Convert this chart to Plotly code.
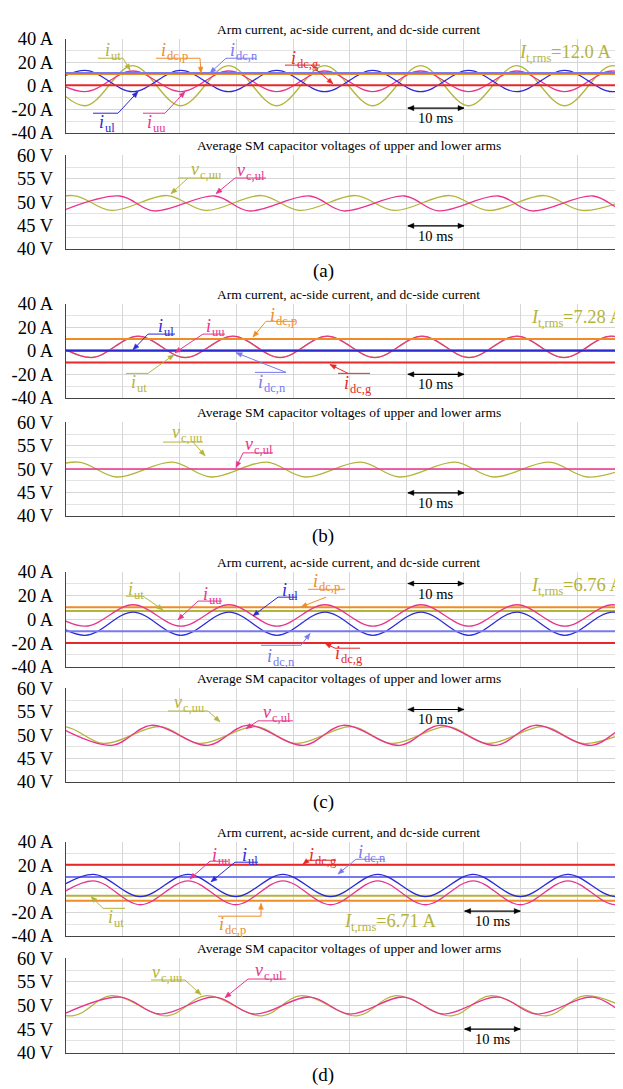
import math
import plotly.graph_objects as go

W, H = 623, 1089
FONT = "Liberation Serif, Times New Roman, serif"

C_UT = "#b4b43c"
C_DCP = "#f08c28"
C_DCN = "#7878f0"
C_UL = "#2a2ad4"
C_UU = "#e8348c"
C_DCG = "#e62828"
GRID = "#d6d6d6"

# ---------------- data (ms, A, V) ----------------
t_dc = [-2, 102]

# (a) currents: extrema times and values
ta_i = [-5.15, 3.3, 11.75, 20.2, 28.65, 37.1, 45.55, 54.0, 62.45, 70.9, 79.35, 87.8, 96.25, 104.7]
a_iut = [17, -17, 17, -17, 17, -17, 17, -17, 17, -17, 17, -17, 17, -17]
a_iuu = [12.5, -5, 12.5, -5, 12.5, -5, 12.5, -5, 12.5, -5, 12.5, -5, 12.5, -5]
a_iul = [-5, 13, -5, 13, -5, 13, -5, 13, -5, 13, -5, 13, -5, 13]
a_idcp = [10, 10]
a_idcn = [10.8, 10.8]
a_idcg = [0.5, 0.5]
# (a) voltages
ta_vuu = [-8.6, 1.2, 8.0, 17.8, 24.6, 34.4, 41.2, 51.0, 57.8, 67.6, 74.4, 84.2, 91.0, 100.8]
a_vuu = [48.2, 51.4, 48.2, 51.4, 48.2, 51.4, 48.2, 51.4, 48.2, 51.4, 48.2, 51.4, 48.2, 51.4]
ta_vul = [-0.7, 9.45, 15.5, 26.2, 32.2, 42.9, 48.9, 59.6, 65.6, 76.1, 82.1, 92.8, 98.8, 109.5]
a_vul = [48.1, 51.3, 48.1, 51.3, 48.1, 51.3, 48.1, 51.3, 48.1, 51.3, 48.1, 51.3, 48.1, 51.3]

# (b) currents
tb_i = [-4.0, 4.4, 12.7, 21.0, 29.4, 37.7, 46.0, 54.4, 62.7, 71.0, 79.4, 87.7, 96.0, 104.4]
b_iuu = [12.5, -5.8, 12.5, -5.8, 12.5, -5.8, 12.5, -5.8, 12.5, -5.8, 12.5, -5.8, 12.5, -5.8]
b_iut = [12.3, -5.6, 12.3, -5.6, 12.3, -5.6, 12.3, -5.6, 12.3, -5.6, 12.3, -5.6, 12.3, -5.6]
b_iul = [0, 0]
b_idcp = [10, 10]
b_idcn = [0.4, 0.4]
b_idcg = [-10, -10]
# (b) voltages
tb_vuu = [-7.7, 2.1, 8.9, 18.7, 25.5, 35.3, 42.1, 51.9, 58.7, 68.5, 75.3, 85.1, 91.9, 101.7]
b_vuu = [48.3, 51.5, 48.3, 51.5, 48.3, 51.5, 48.3, 51.5, 48.3, 51.5, 48.3, 51.5, 48.3, 51.5]
b_vul = [50, 50]

# (c) currents
tc_i = [-5.1, 3.35, 11.8, 20.25, 28.7, 37.15, 45.6, 54.05, 62.5, 70.95, 79.4, 87.85, 96.3, 104.75]
c_iuu = [12.2, -5.8, 12.2, -5.8, 12.2, -5.8, 12.2, -5.8, 12.2, -5.8, 12.2, -5.8, 12.2, -5.8]
c_iul = [6, -13.5, 6, -13.5, 6, -13.5, 6, -13.5, 6, -13.5, 6, -13.5, 6, -13.5]
c_iut = [7, 7]
c_idcp = [10, 10]
c_idcn = [-10, -10]
c_idcg = [-20, -20]
# (c) voltages
tc_vuu = [-10.2, -0.3, 6.6, 16.6, 23.4, 33.5, 40.3, 50.4, 57.2, 67.3, 74.1, 84.2, 91.0, 101.1]
c_vuu = [48.2, 51.8, 48.2, 51.8, 48.2, 51.8, 48.2, 51.8, 48.2, 51.8, 48.2, 51.8, 48.2, 51.8]
tc_vul = [-1.9, 8.1, 15.0, 25.0, 31.9, 41.9, 48.8, 58.8, 65.7, 75.7, 82.6, 92.6, 99.5, 109.5]
c_vul = [52.1, 47.8, 52.1, 47.8, 52.1, 47.8, 52.1, 47.8, 52.1, 47.8, 52.1, 47.8, 52.1, 47.8]

# (d) currents
td_i = [-3.6, 4.75, 13.1, 21.5, 29.9, 38.2, 46.6, 54.9, 63.3, 71.7, 80.0, 88.4, 96.8, 105.1]
d_iul = [-6.7, 12.2, -6.7, 12.2, -6.7, 12.2, -6.7, 12.2, -6.7, 12.2, -6.7, 12.2, -6.7, 12.2]
d_iuu = [-13.6, 6.7, -13.6, 6.7, -13.6, 6.7, -13.6, 6.7, -13.6, 6.7, -13.6, 6.7, -13.6, 6.7]
d_iut = [-6, -6]
d_idcp = [-10.3, -10.3]
d_idcn = [10, 10]
d_idcg = [20.3, 20.3]
# (d) voltages
td_vuu = [-8.7, 1.1, 8.0, 17.8, 24.7, 34.5, 41.4, 51.2, 58.1, 67.9, 74.8, 84.6, 91.5, 101.3]
d_vuu = [52.1, 47.8, 52.1, 47.8, 52.1, 47.8, 52.1, 47.8, 52.1, 47.8, 52.1, 47.8, 52.1, 47.8]
td_vul = [-0.4, 9.6, 16.4, 26.3, 33.1, 43.0, 49.9, 59.5, 66.3, 76.1, 82.8, 92.8, 99.5, 109.5]
d_vul = [48.2, 51.8, 48.2, 51.8, 48.2, 51.8, 48.2, 51.8, 48.2, 51.8, 48.2, 51.8, 48.2, 51.8]

i_ticks = [-40, -20, 0, 20, 40]
i_ticktext = ["-40 A", "-20 A", "0 A", "20 A", "40 A"]
v_ticks = [40, 45, 50, 55, 60]
v_ticktext = ["40 V", "45 V", "50 V", "55 V", "60 V"]
rms_text = ["12.0", "7.28", "6.76", "6.71"]

# ---------------- layout helpers ----------------
X0 = 58
T_MAX = 99.5
def px(x):
    return x / W
def py(y):
    return 1 - y / H

# plot frames (top, bottom) in pixels
frames = [(21, 117), (140, 235), (291, 387), (412, 507),
          (564, 661), (683, 778), (839, 935), (958, 1054)]
yranges = [(-40, 40), (40, 60)] * 4

fig = go.Figure()

def add(k, x, y, color, width=1.3, smooth=True):
    fig.add_trace(go.Scatter(
        x=x, y=y, mode="lines",
        line=dict(color=color, width=width, shape="spline" if smooth else "linear", smoothing=1),
        xaxis="x" if k == 1 else f"x{k}", yaxis="y" if k == 1 else f"y{k}",
        showlegend=False, hoverinfo="skip"))

# (a)
add(1, ta_i, a_iut, C_UT)
add(1, ta_i, a_iuu, C_UU)
add(1, ta_i, a_iul, C_UL)
add(1, t_dc, a_idcp, C_DCP, 2, False)
add(1, t_dc, a_idcn, C_DCN, 2, False)
add(1, t_dc, a_idcg, C_DCG, 2, False)
add(2, ta_vuu, a_vuu, C_UT)
add(2, ta_vul, a_vul, C_UU)
# (b)
add(3, tb_i, b_iut, C_UT)
add(3, tb_i, b_iuu, C_UU)
add(3, t_dc, b_idcp, C_DCP, 2, False)
add(3, t_dc, b_idcn, C_DCN, 2, False)
add(3, t_dc, b_iul, C_UL, 2, False)
add(3, t_dc, b_idcg, C_DCG, 2, False)
add(4, tb_vuu, b_vuu, C_UT)
add(4, t_dc, b_vul, C_UU, 1.5, False)
# (c)
add(5, t_dc, c_iut, C_UT, 2, False)
add(5, t_dc, c_idcp, C_DCP, 2, False)
add(5, tc_i, c_iuu, C_UU)
add(5, tc_i, c_iul, C_UL)
add(5, t_dc, c_idcn, C_DCN, 2, False)
add(5, t_dc, c_idcg, C_DCG, 2, False)
add(6, tc_vuu, c_vuu, C_UT)
add(6, tc_vul, c_vul, C_UU)
# (d)
add(7, t_dc, d_idcg, C_DCG, 2, False)
add(7, t_dc, d_idcn, C_DCN, 2, False)
add(7, t_dc, d_iut, C_UT, 2, False)
add(7, t_dc, d_idcp, C_DCP, 2, False)
add(7, td_i, d_iul, C_UL)
add(7, td_i, d_iuu, C_UU)
add(8, td_vuu, d_vuu, C_UT)
add(8, td_vul, d_vul, C_UU)

layout = dict(
    width=W, height=H, margin=dict(l=0, r=0, t=0, b=0),
    paper_bgcolor="white", plot_bgcolor="white",
    font=dict(family=FONT, color="black", size=17),
    showlegend=False,
)
for k in range(1, 9):
    top, bot = frames[k - 1]
    cur = (k % 2 == 1)
    xa = "xaxis" if k == 1 else f"xaxis{k}"
    ya = "yaxis" if k == 1 else f"yaxis{k}"
    yid = "y" if k == 1 else f"y{k}"
    xid = "x" if k == 1 else f"x{k}"
    layout[xa] = dict(domain=[px(X0), 1], anchor=yid, range=[0, T_MAX],
                      tick0=0, dtick=10, showticklabels=False, ticks="",
                      showgrid=True, gridcolor=GRID, gridwidth=1,
                      zeroline=False, showline=True, linecolor="#444", linewidth=1)
    layout[ya] = dict(domain=[py(bot), py(top)], anchor=xid,
                      range=list(yranges[k - 1]),
                      tickvals=i_ticks if cur else v_ticks,
                      ticktext=i_ticktext if cur else v_ticktext,
                      ticks="outside", ticklen=8, tickcolor="rgba(0,0,0,0)",
                      tickfont=dict(family=FONT, size=18.5, color="black"),
                      showgrid=True, gridcolor=GRID, gridwidth=1,
                      minor=dict(dtick=10 if cur else 2.5, tick0=0, showgrid=True, gridcolor="#e3e3e3", ticks=""),
                      zeroline=False, showline=True, linecolor="#444", linewidth=1.2)
fig.update_layout(**layout)

ann = []
shapes = []

# Times / Liberation Serif advance widths (per 1000 em)
ROMAN_W = {"u": 500, "t": 278, "l": 278, "d": 500, "c": 444, ",": 250, "p": 500, "n": 500,
           "g": 500, "r": 333, "m": 778, "s": 389, "=": 564, ".": 250, " ": 250, "A": 722}
ITAL_W = {"i": 278, "v": 444, "I": 333}

def tw(s, size, table=ROMAN_W):
    return sum(table.get(ch, 500) for ch in s) / 1000.0 * size

def text(x, y, s, color="black", size=13.5, anchor="center", style="normal"):
    ann.append(dict(xref="paper", yref="paper", x=px(x), y=py(y), text=s, showarrow=False,
                    xanchor=anchor, yanchor="middle", borderpad=0,
                    font=dict(family=FONT, size=size, color=color, style=style)))

def symbol(cx, y, main, sub, color, size=18, subsize=12.5, rest="", align="center"):
    wm = tw(main, size, ITAL_W)
    ws = tw(sub, subsize)
    wr = tw(rest, size)
    total = wm + 1 + ws + wr
    left = cx - total / 2 if align == "center" else cx - total
    text(left, y, main, color, size, "left", "italic")
    text(left + wm + 1, y + 0.33 * size, sub, color, subsize, "left")
    if rest:
        text(left + wm + 1 + ws, y, rest, color, size, "left")

def seg(x0, y0, x1, y1, color, width=1):
    shapes.append(dict(type="line", xref="paper", yref="paper", x0=px(x0), x1=px(x1),
                       y0=py(y0), y1=py(y1), line=dict(color=color, width=width)))

def head(x0, y0, x1, y1, color, L=6.0, w=2.4):
    # filled triangle at (x1, y1) pointing away from (x0, y0), pixel units
    dx, dy = x1 - x0, y1 - y0
    n = math.hypot(dx, dy) or 1.0
    ux, uy = dx / n, dy / n
    bx, by = x1 - L * ux, y1 - L * uy
    pts = [(x1, y1), (bx - w * uy, by + w * ux), (bx + w * uy, by - w * ux)]
    path = "M " + " L ".join(f"{px(a):.5f},{py(b):.5f}" for a, b in pts) + " Z"
    shapes.append(dict(type="path", xref="paper", yref="paper", path=path,
                       fillcolor=color, line=dict(color=color, width=0.5)))

def leader(x0, y0, x1, y1, color):
    seg(x0, y0, x1, y1, color)
    head(x0, y0, x1, y1, color)

def lab(x, y, main, sub, color, ul, ld):
    symbol(x, y, main, sub, color)
    seg(ul[0], ul[2], ul[1], ul[2], color)
    leader(ld[0], ld[1], ld[2], ld[3], color)

def rms(xr, y, val):
    symbol(xr, y, "I", "t,rms", C_UT, 18.5, 12.5, f"={val} A", align="right")

def to_px(k, t, v):
    top, bot = frames[k - 1]
    lo, hi = yranges[k - 1]
    return X0 + t / T_MAX * (W - X0), top + (hi - v) / (hi - lo) * (bot - top)

def scalebar(k, t0, t1, yv, ytxt):
    xa, ya = to_px(k, t0, yv)
    xb, yb = to_px(k, t1, yv)
    seg(xa, ya, xb, yb, "black", 1.1)
    head(xa, ya, xb, yb, "black", 6, 2.6)
    head(xb, yb, xa, ya, "black", 6, 2.6)
    xid = "x" if k == 1 else f"x{k}"
    yid = "y" if k == 1 else f"y{k}"
    ann.append(dict(xref=xid, yref=yid, x=(t0 + t1) / 2, y=ytxt, text="10 ms", showarrow=False,
                    font=dict(family=FONT, size=14.5, color="black")))

TI = "Arm current, ac-side current, and dc-side current"
TV = "Average SM capacitor voltages of upper and lower arms"
cx = (X0 + W) / 2
for k_i, k_v, lbl, ly in [(1, 2, "(a)", 258), (3, 4, "(b)", 528), (5, 6, "(c)", 799), (7, 8, "(d)", 1077)]:
    text(cx, frames[k_i - 1][0] - 9, TI)
    text(cx, frames[k_v - 1][0] - 10, TV)
    text(315, ly, lbl, size=19)

# (a) labels
lab(104, 33, "i", "ut", C_UT, (90, 115, 41), (115, 41, 122, 53))
lab(166, 33, "i", "dc,p", C_DCP, (148, 192, 41), (192, 41, 193, 56))
lab(235, 33, "i", "dc,n", C_DCN, (218, 248, 41), (218, 41, 202, 56))
lab(296, 41, "i", "dc,g", C_DCG, (277, 312, 48), (303, 48, 325, 67))
lab(98, 106, "i", "ul", C_UL, (85, 110, 97), (110, 97, 130, 75))
lab(147, 106, "i", "uu", C_UU, (135, 157, 97), (157, 97, 177, 75))
rms(603, 35, rms_text[0])
scalebar(1, 60.2, 70.1, -19, -27.5)
lab(197, 154, "v", "c,uu", C_UT, (170, 210, 163), (180, 163, 163, 179))
lab(242, 155, "v", "c,ul", C_UU, (227, 258, 163), (227, 163, 208, 179))
scalebar(2, 60.2, 70.1, 44.9, 42.8)

# (b) labels
lab(157, 314, "i", "ul", C_UL, (140, 167, 322), (140, 322, 125, 338))
lab(206, 314, "i", "uu", C_UU, (195, 217, 322), (195, 322, 167, 341))
lab(130, 371, "i", "ut", C_UT, (118, 140, 362), (140, 362, 166, 343))
lab(275, 303, "i", "dc,p", C_DCP, (258, 287, 309), (258, 309, 245, 325))
lab(263, 371, "i", "dc,n", C_DCN, (247, 278, 361), (278, 361, 228, 341))
lab(349, 372, "i", "dc,g", C_DCG, (330, 362, 362), (340, 362, 322, 353))
rms(615, 305, rms_text[1])
scalebar(3, 60.2, 70.1, -20, -28)
lab(178, 422, "v", "c,uu", C_UT, (155, 195, 432), (185, 432, 197, 446))
lab(250, 434, "v", "c,ul", C_UU, (235, 265, 443), (235, 443, 228, 458))
scalebar(4, 60.2, 70.1, 44.9, 42.8)

# (c) labels
lab(127, 582, "i", "ut", C_UT, (118, 135, 589), (135, 589, 155, 603))
lab(203, 587, "i", "uu", C_UU, (190, 214, 594), (190, 594, 170, 613))
lab(281, 583, "i", "ul", C_UL, (270, 289, 590), (270, 590, 245, 609))
lab(318, 574, "i", "dc,p", C_DCP, (300, 337, 582), (318, 590, 293, 600))
lab(272, 650, "i", "dc,n", C_DCN, (253, 293, 639), (293, 639, 302, 627))
lab(340, 647, "i", "dc,g", C_DCG, (327, 352, 642), (327, 642, 317, 637))
rms(615, 578, rms_text[2])
scalebar(5, 60.2, 70.1, 30, 21.5)
lab(180, 697, "v", "c,uu", C_UT, (160, 200, 706), (200, 706, 212, 717))
lab(268, 707, "v", "c,ul", C_UU, (250, 285, 716), (250, 716, 238, 724))
scalebar(6, 60.2, 70.1, 55.5, 53.4)

# (d) labels
lab(212, 853, "i", "uu", C_UU, (202, 220, 859), (202, 859, 182, 877))
lab(241, 853, "i", "ul", C_UL, (227, 250, 860), (227, 860, 203, 880))
lab(314, 853, "i", "dc,g", C_DCG, (300, 328, 858), (300, 858, 295, 862))
lab(363, 850, "i", "dc,n", C_DCN, (348, 377, 857), (348, 857, 330, 872))
lab(107, 916, "i", "ut", C_UT, (95, 117, 907), (95, 907, 83, 895))
lab(224, 923, "i", "dc,p", C_DCP, (210, 253, 915), (253, 915, 253, 902))
rms(428, 920, rms_text[3])
scalebar(7, 70.2, 80.0, -19, -27.5)
lab(158, 972, "v", "c,uu", C_UT, (143, 177, 980), (177, 980, 193, 995))
lab(260, 970, "v", "c,ul", C_UU, (240, 278, 979), (240, 979, 217, 998))
scalebar(8, 70.2, 80.0, 45, 42.9)

fig.update_layout(annotations=ann, shapes=shapes)
fig.write_html("out.html")
